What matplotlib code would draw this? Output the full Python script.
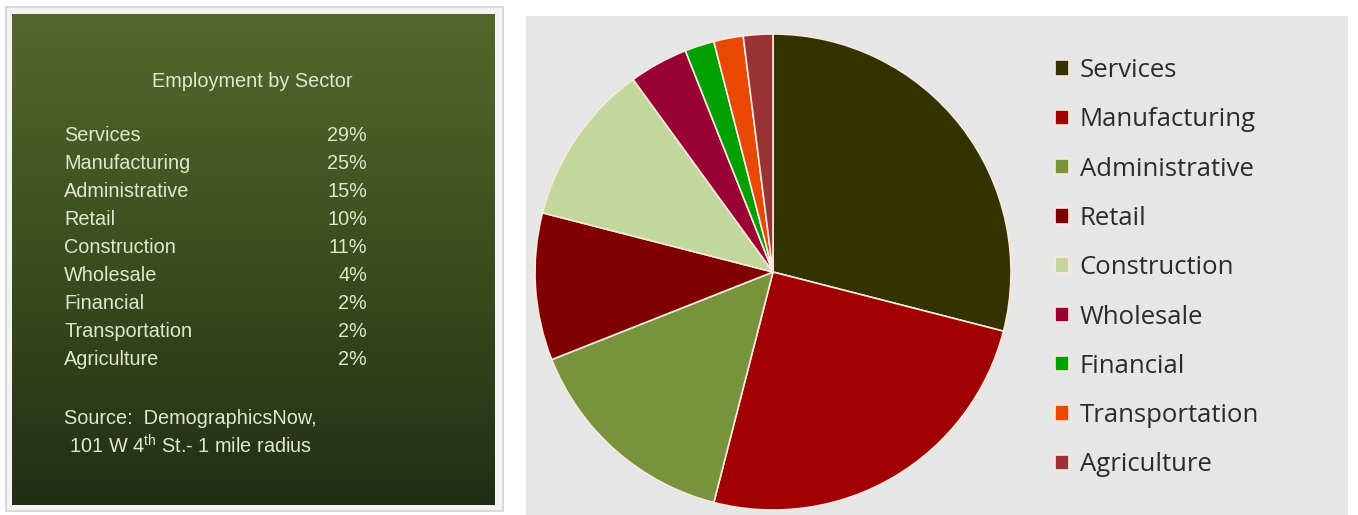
import matplotlib.pyplot as plt
from matplotlib.patches import Rectangle
import numpy as np

plt.rcParams['mathtext.fontset'] = 'custom'
plt.rcParams['mathtext.rm'] = 'Liberation Sans'

W, H = 1358, 515

sectors = ["Services", "Manufacturing", "Administrative", "Retail", "Construction",
           "Wholesale", "Financial", "Transportation", "Agriculture"]
shares = [29, 25, 15, 10, 11, 4, 2, 2, 2]
colors = ["#333300", "#a00000", "#77933c", "#800000", "#c4d79b",
          "#990033", "#00a000", "#e84800", "#993333"]

title = "Employment by Sector"
source_lines = ["Source:  DemographicsNow,", " 101 W 4$^{\\mathrm{th}}$ St.- 1 mile radius"]

txt_color = "#e2e6cf"


def px_axes(fig, x0, y0, x1, y1):
  # pixel box (top-left origin) -> figure fraction axes
  return fig.add_axes([x0 / W, 1 - y1 / H, (x1 - x0) / W, (y1 - y0) / H])


fig = plt.figure(figsize=(W / 100, H / 100), dpi=100)
fig.patch.set_facecolor("white")

# left panel: frame + gradient box
frame = Rectangle((6 / W, 1 - 511 / H), (503 - 6) / W, (511 - 7) / H, transform=fig.transFigure,
                  facecolor="#f4f4f4", edgecolor="#d8d8d8", linewidth=1.5, zorder=-5)
fig.patches.append(frame)

ax_l = px_axes(fig, 12, 14, 494, 505)
top = np.array([84, 104, 44]) / 255
mid = np.array([58, 78, 30]) / 255
bot = np.array([34, 46, 20]) / 255
t = np.linspace(0, 1, 256)[:, None]
grad = np.where(t < 0.5, top + (mid - top) * (t / 0.5), mid + (bot - mid) * ((t - 0.5) / 0.5))
ax_l.imshow(grad[:, None, :], aspect="auto", extent=[0, 482, 491, 0])
ax_l.set_xlim(0, 482)
ax_l.set_ylim(491, 0)
ax_l.axis("off")

font = dict(family="Liberation Sans", color=txt_color)
fs = 14.3
ax_l.text(252 - 12, 81 - 14, title, fontsize=fs, ha="center", va="center", **font)
for i, (name, val) in enumerate(zip(sectors, shares)):
  y = 135 - 14 + i * 28.1
  ax_l.text(64 - 12, y, name, fontsize=fs, ha="left", va="center", **font)
  ax_l.text(367 - 12, y, f"{val}%", fontsize=fs, ha="right", va="center", **font)
ax_l.text(64 - 12, 418 - 14, source_lines[0], fontsize=fs, ha="left", va="center", **font)
ax_l.text(64 - 12, 446 - 14, source_lines[1], fontsize=fs, ha="left", va="center", **font)

# right panel: gray background
bg = Rectangle((526 / W, 0), (1348 - 526) / W, (H - 16) / H, transform=fig.transFigure,
               facecolor="#e6e6e6", edgecolor="none", zorder=-5)
fig.patches.append(bg)

cx, cy, r = 773, 272, 238
ax_p = px_axes(fig, cx - r, cy - r, cx + r, cy + r)
wedges, _ = ax_p.pie(shares, colors=colors, startangle=90, counterclock=False,
                     wedgeprops=dict(edgecolor="#fbe8e0", linewidth=1.2))
ax_p.set_xlim(-1, 1)
ax_p.set_ylim(-1, 1)
ax_p.axis("off")

leg = fig.legend(wedges, sectors, loc="upper left", bbox_to_anchor=(1032 / W, 1 - 35 / H),
                 frameon=False, prop=dict(family="Open Sans", size=18.5), labelcolor="#2b2b2b",
                 handlelength=0.55, handleheight=0.55, handletextpad=0.4, labelspacing=0.945)

fig.savefig("out.png", dpi=100)
